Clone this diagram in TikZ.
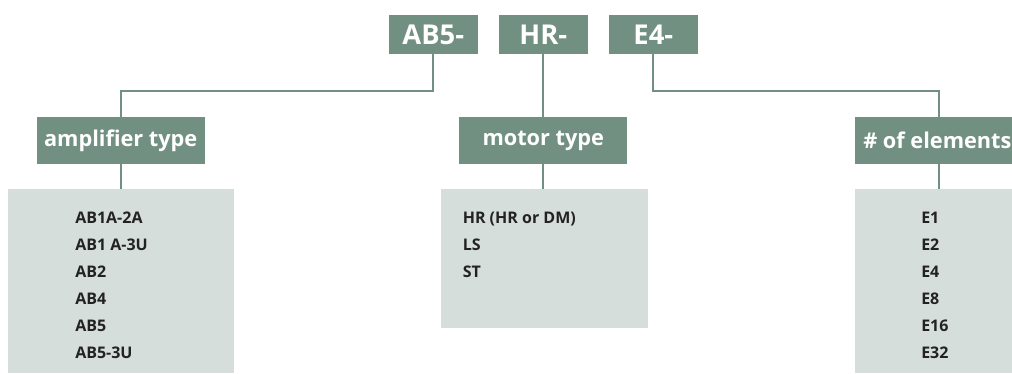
\documentclass[tikz,border=0pt]{standalone}
\usepackage{fontspec}
\setmainfont{Open Sans}
\definecolor{hdr}{RGB}{113,144,129}
\definecolor{pane}{RGB}{214,222,219}
\definecolor{ink}{RGB}{34,34,34}
\begin{document}
\begin{tikzpicture}[x=0.75pt,y=-0.75pt,
  topbox/.style={fill=hdr,text=white,font=\bfseries\fontsize{20.5}{22}\selectfont,minimum width=66.75pt,minimum height=29.25pt,inner sep=0pt},
  catbox/.style={fill=hdr,text=white,font=\bfseries\fontsize{16.3}{18}\selectfont,minimum width=126pt,minimum height=35.25pt,inner sep=0pt},
  panebox/.style={fill=pane,inner sep=0pt},
  item/.style={anchor=base west,text=ink,font=\bfseries\fontsize{12}{13}\selectfont,inner sep=0pt},
  conn/.style={draw=hdr,line width=1.5pt}]
\useasboundingbox (0,0) rectangle (1012,374);
\clip (0,0) rectangle (1012,374);
% top code boxes
\node[topbox] (ab) at (433.3,34.5) {AB5-};
\node[topbox] (hr) at (543.3,34.5) {HR-};
\node[topbox] (e4) at (653.3,34.5) {E4-};
% category boxes
\node[catbox] (amp) at (120.7,140.7) {amplifier type};
\node[catbox] (mot) at (543.3,140.7) {motor type};
\node[catbox,minimum width=126pt] (ele) at (939,140.7) {};
\node[anchor=west,text=white,font=\bfseries\fontsize{16.3}{18}\selectfont,inner sep=0pt] (eletxt) at (863,140.7) {\# of elements};
% panes
\node[panebox,minimum width=169.5pt,minimum height=138pt] (amplist) at (121,281) {};
\node[panebox,minimum width=155.25pt,minimum height=104.25pt] (motlist) at (544.5,258.5) {};
\node[panebox,minimum width=126pt,minimum height=138pt] (elelist) at (939,281) {};
% connectors
\draw[conn] (ab.south) -- ++(0,37) -| (amp.north);
\draw[conn] (hr.south) -- (hr.south |- mot.north);
\draw[conn] (e4.south) -- ++(0,37) -| (ele.north);
\draw[conn] (amp.south) -- (amp.south |- amplist.north);
\draw[conn] (mot.south) -- (mot.south |- motlist.north);
\draw[conn] (ele.south) -- (ele.south |- elelist.north);
% items
\node[item] (a1) at (75,223) {AB1A-2A};
\node[item] (a2) at (75,250) {AB1 A-3U};
\node[item] (a3) at (75,277) {AB2};
\node[item] (a4) at (75,304) {AB4};
\node[item] (a5) at (75,331) {AB5};
\node[item] (a6) at (75,358) {AB5-3U};
\node[item] (m1) at (462.5,223) {HR (HR or DM)};
\node[item] (m2) at (462.5,250) {LS};
\node[item] (m3) at (462.5,277) {ST};
\node[item] (e1) at (921,223) {E1};
\node[item] (e2) at (921,250) {E2};
\node[item] (e3) at (921,277) {E4};
\node[item] (e5) at (921,304) {E8};
\node[item] (e6) at (921,331) {E16};
\node[item] (e7) at (921,358) {E32};
\end{tikzpicture}
\end{document}
